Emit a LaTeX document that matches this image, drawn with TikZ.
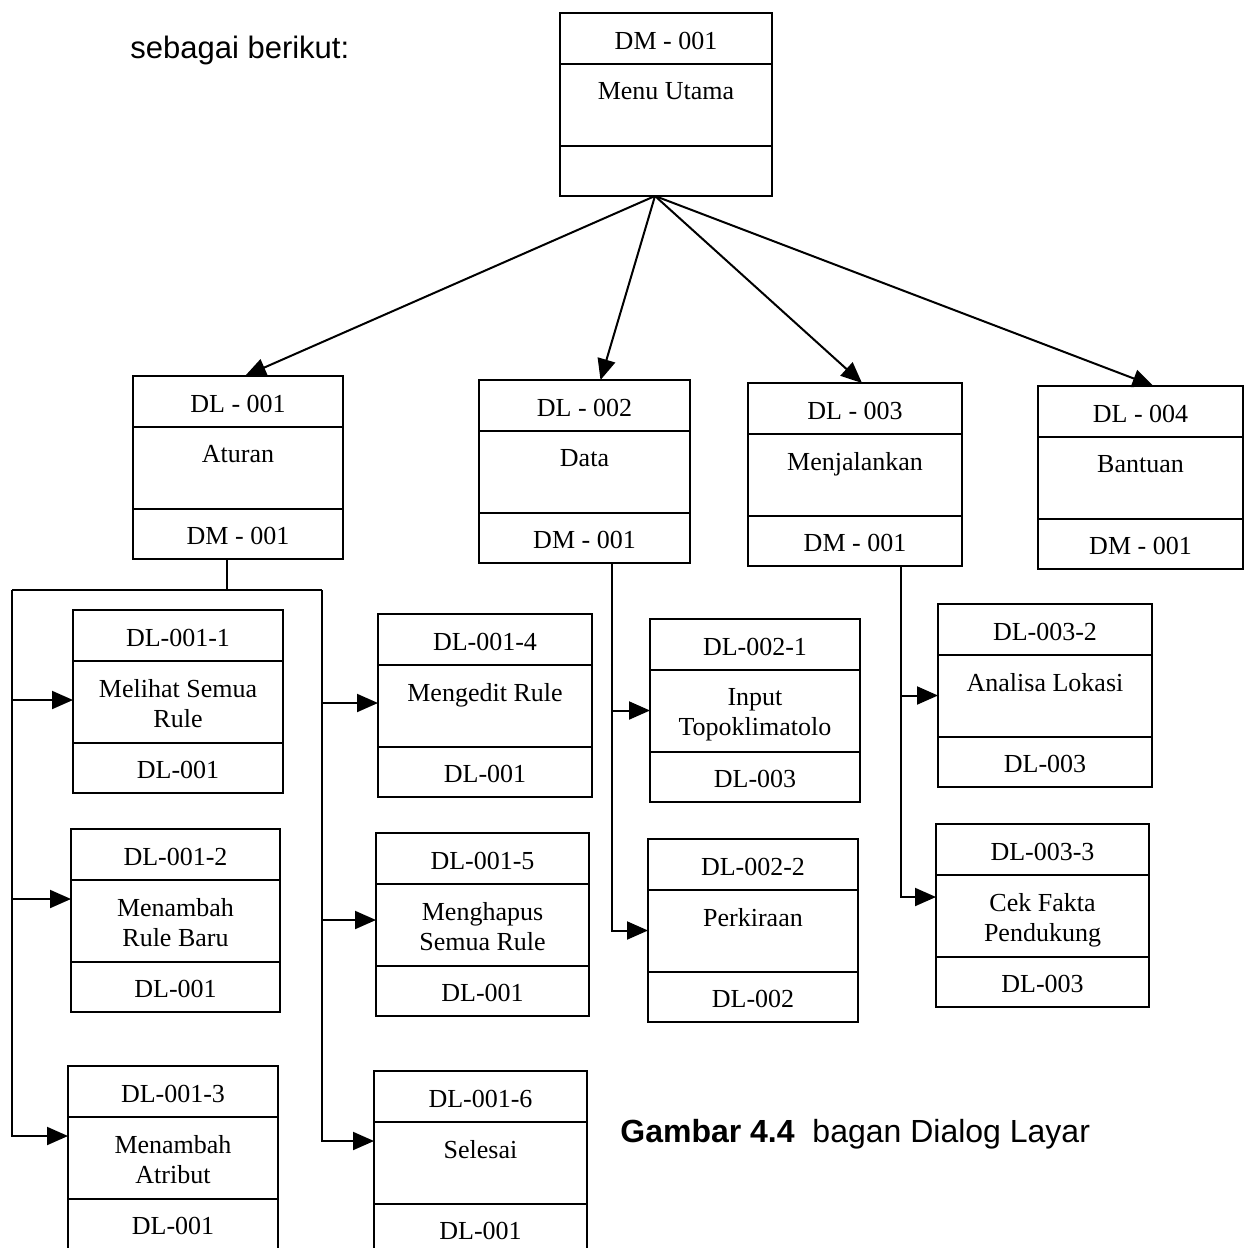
\documentclass[tikz,border=0pt]{standalone}
\usepackage{fontspec}
\setmainfont{Liberation Serif}
\newfontfamily\arialfont{Liberation Sans}
\usetikzlibrary{arrows.meta}

% One dialog screen: name, left x, top y, right x, code, caption, return code.
% The box is 183 units high, split at 51 and 133 units from its top.
\newcommand\screen[7]{%
  \node[scrbox, minimum width={(#4-#2)*0.5pt}, anchor=north west] (#1) at (#2,#3) {};
  \draw[boxline] ({#2},{#3+51}) -- ({#4},{#3+51});
  \draw[boxline] ({#2},{#3+133}) -- ({#4},{#3+133});
  \node[boxtext] (#1-code) at ({(#2+#4)/2},{#3+28}) {#5};
  \node[boxtext, anchor=north, align=center] (#1-name) at ({(#2+#4)/2},{#3+69}) {#6};
  \node[boxtext] (#1-ret) at ({(#2+#4)/2},{#3+160}) {#7};
}

\tikzset{
  boxline/.style={line width=1pt},
  scrbox/.style={draw, line width=1pt, minimum height=91.5pt, inner sep=0pt, outer sep=0pt},
  boxtext/.style={font=\fontsize{13}{15}\selectfont, inner sep=0pt},
  link/.style={line width=1pt, -{Triangle[length=10.5pt,width=9pt]}},
  trunk/.style={line width=1pt},
  sanstext/.style={font=\arialfont\fontsize{15.5}{18}\selectfont, inner sep=0pt, anchor=west},
}

\begin{document}
\begin{tikzpicture}[x=0.5pt,y=-0.5pt]
\useasboundingbox (0,0) rectangle (1244,1248);

\node[sanstext] (intro) at (130,50) {sebagai berikut:};

% main menu
\screen{dm}{560}{13}{772}{DM - 001}{Menu Utama}{}

% first level
\screen{dl1}{133}{376}{343}{DL - 001}{Aturan}{DM - 001}
\screen{dl2}{479}{380}{690}{DL - 002}{Data}{DM - 001}
\screen{dl3}{748}{383}{962}{DL - 003}{Menjalankan}{DM - 001}
\screen{dl4}{1038}{386}{1243}{DL - 004}{Bantuan}{DM - 001}

% second level under Aturan
\screen{a1}{73}{610}{283}{DL-001-1}{Melihat Semua\\Rule}{DL-001}
\screen{a2}{71}{829}{280}{DL-001-2}{Menambah\\Rule Baru}{DL-001}
\screen{a3}{68}{1066}{278}{DL-001-3}{Menambah\\Atribut}{DL-001}
\screen{a4}{378}{614}{592}{DL-001-4}{Mengedit Rule}{DL-001}
\screen{a5}{376}{833}{589}{DL-001-5}{Menghapus\\Semua Rule}{DL-001}
\screen{a6}{374}{1071}{587}{DL-001-6}{Selesai}{DL-001}

% second level under Data
\screen{b1}{650}{619}{860}{DL-002-1}{Input\\Topoklimatolo}{DL-003}
\screen{b2}{648}{839}{858}{DL-002-2}{Perkiraan}{DL-002}

% second level under Menjalankan
\screen{c2}{938}{604}{1152}{DL-003-2}{Analisa Lokasi}{DL-003}
\screen{c3}{936}{824}{1149}{DL-003-3}{Cek Fakta\\Pendukung}{DL-003}

% menu to first level
\coordinate (hub) at (655,196);
\draw[link] (hub) -- ([xshift=3.5pt]dl1.north);
\draw[link] (hub) -- ([xshift=8pt]dl2.north);
\draw[link] (hub) -- ([xshift=3.5pt]dl3.north);
\draw[link] (hub) -- ([xshift=6.5pt]dl4.north);

% Aturan branch
\coordinate (j1) at (227,590);
\coordinate (jl) at (12,590);
\coordinate (jr) at (322,590);
\draw[trunk] ([xshift=-5.5pt]dl1.south) -- (j1);
\draw[trunk] (jl) -- (jr);
\draw[link] (jl) |- ([yshift=0.75pt]a1.west);
\draw[link] (jl) |- ([yshift=10.75pt]a2.west);
\draw[link] (jl) |- ([yshift=10.75pt]a3.west);
\draw[link] (jr) |- ([yshift=1.25pt]a4.west);
\draw[link] (jr) |- ([yshift=2.25pt]a5.west);
\draw[link] (jr) |- ([yshift=10.75pt]a6.west);

% Data branch
\draw[link] ([xshift=13.75pt]dl2.south) |- (b1.west);
\draw[link] ([xshift=13.75pt]dl2.south) |- (b2.west);

% Menjalankan branch
\draw[link] ([xshift=23pt]dl3.south) |- (c2.west);
\draw[link] ([xshift=23pt]dl3.south) |- ([yshift=9.25pt]c3.west);

% caption
\node[sanstext, font=\arialfont\fontsize{16}{19}\selectfont] (cap) at (620,1134) {\textbf{Gambar 4.4}\ \ bagan Dialog Layar};
\end{tikzpicture}
\end{document}
